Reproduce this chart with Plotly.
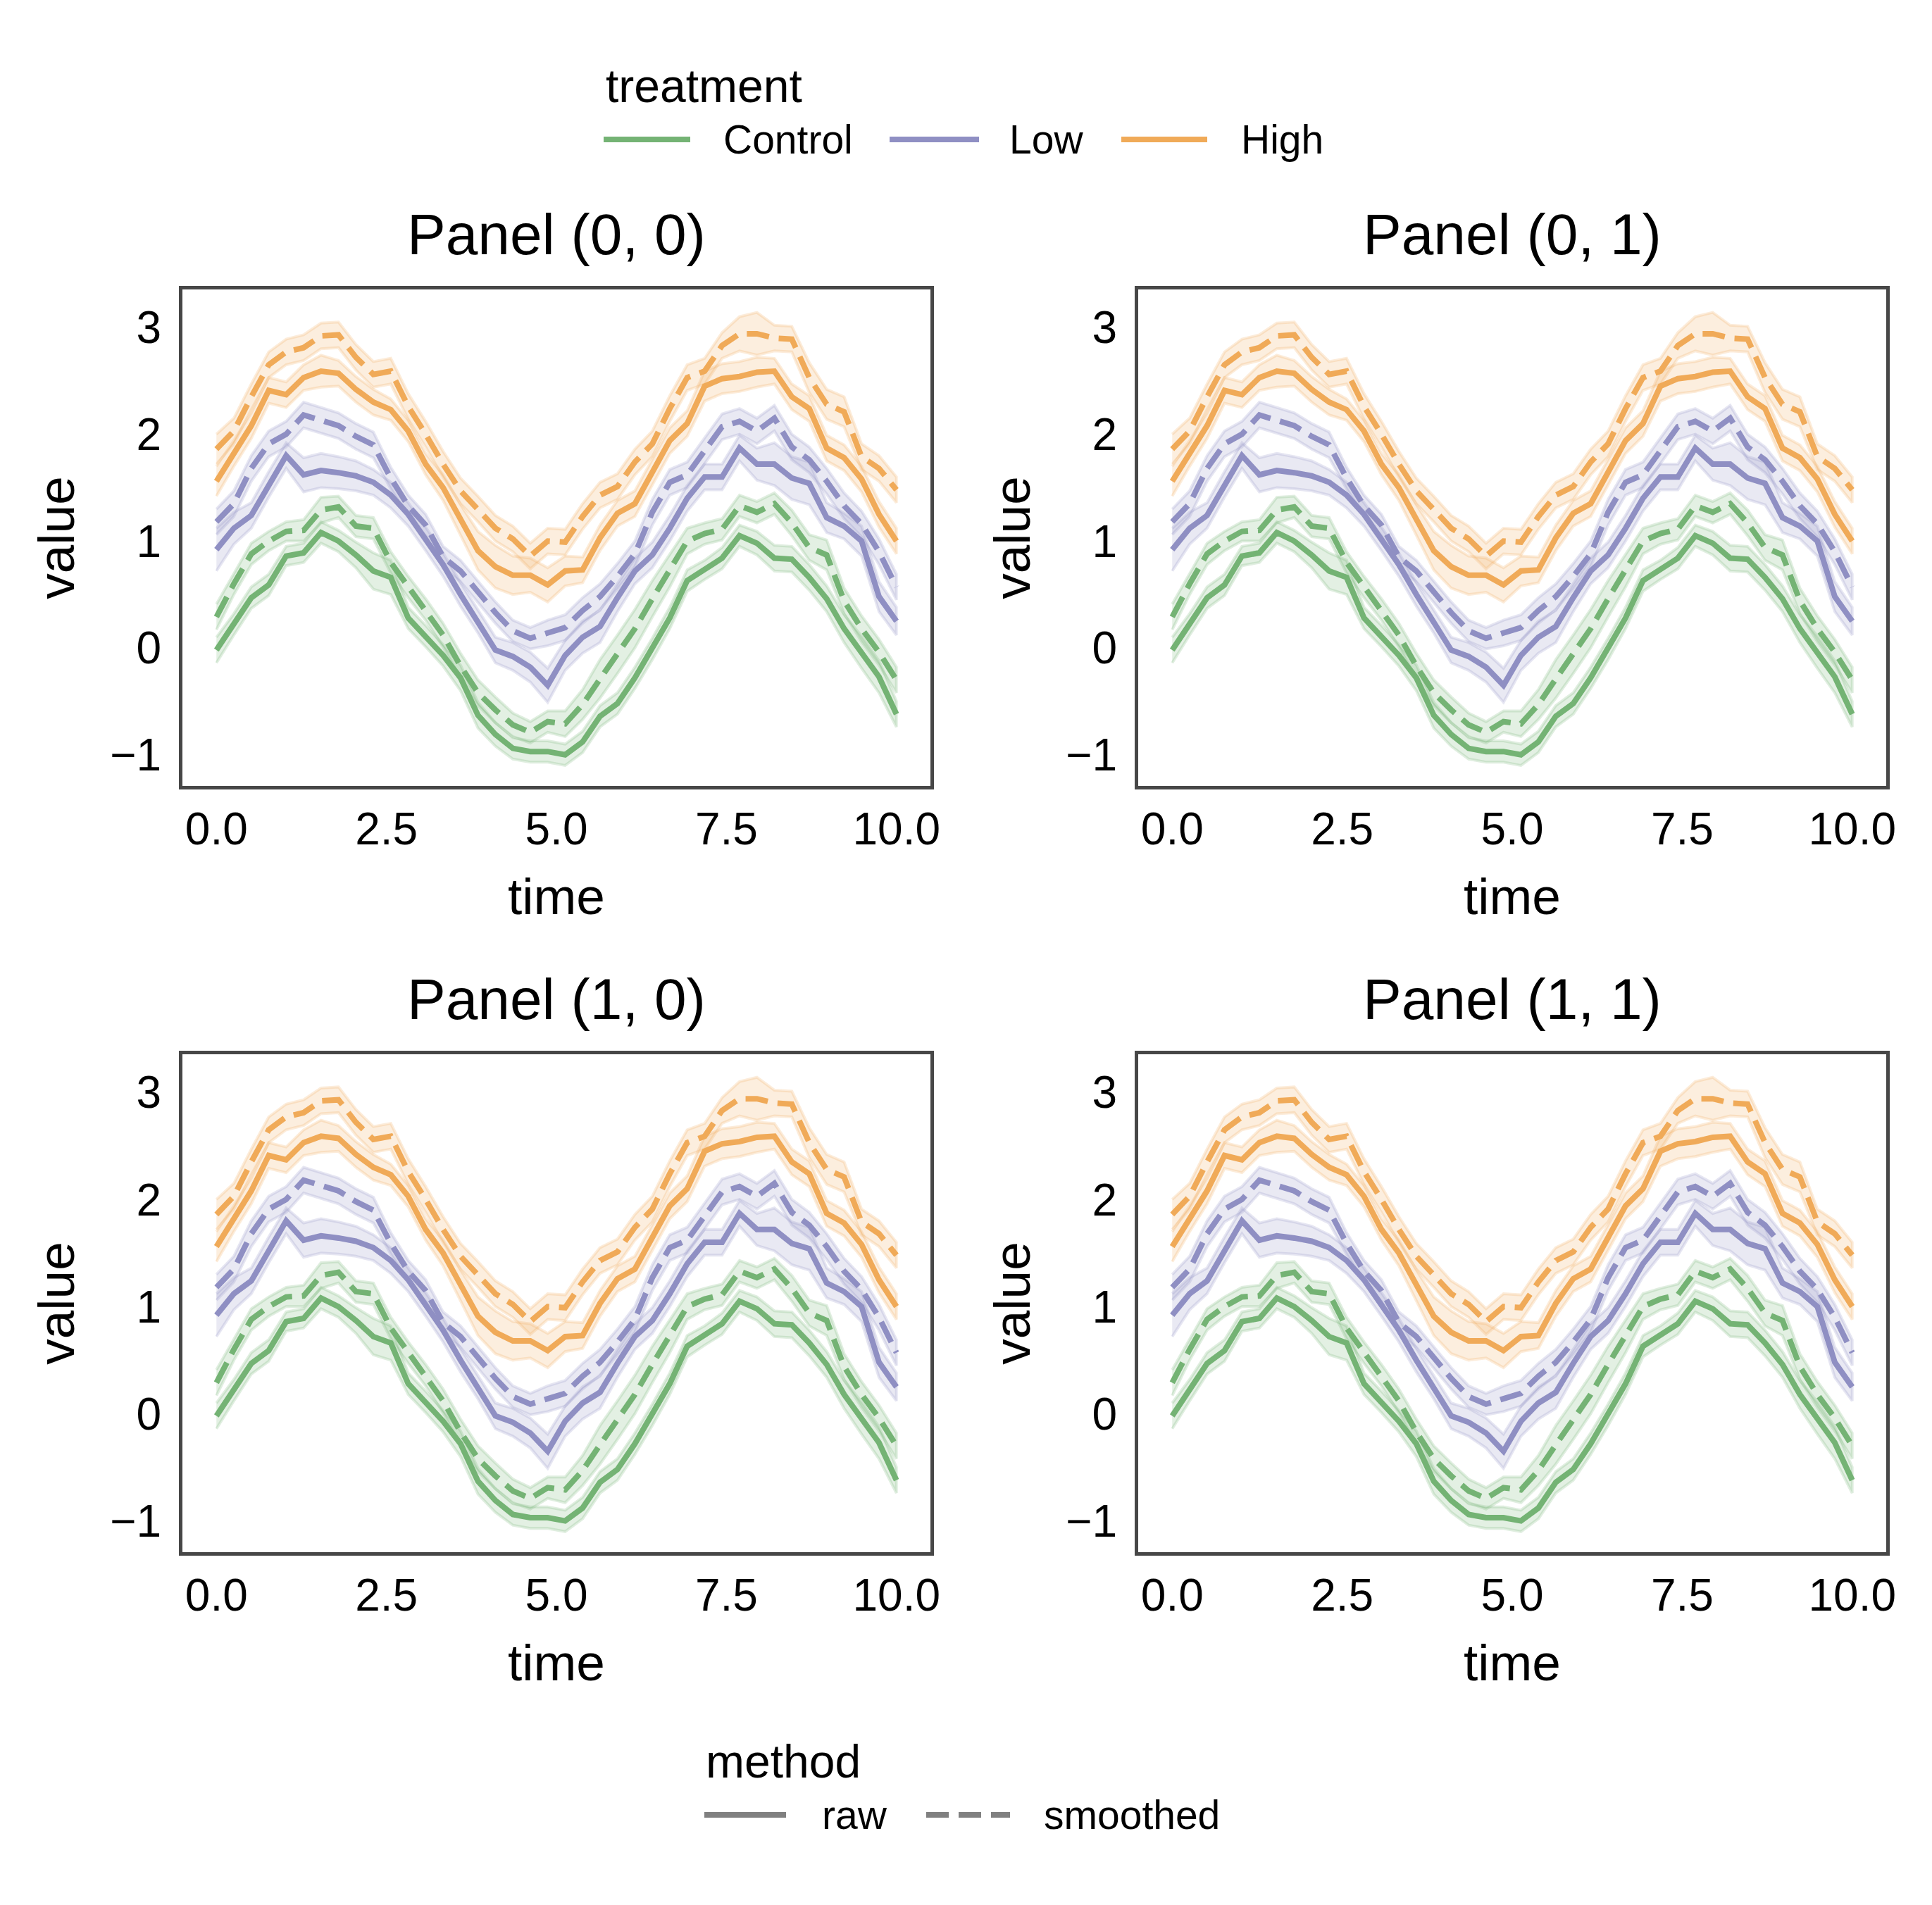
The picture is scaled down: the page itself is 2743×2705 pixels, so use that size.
import numpy as np
import plotly.graph_objects as go

# ---------------- data ----------------
time = np.linspace(0, 10, 40)

control_raw = [-0.02, 0.22, 0.47, 0.59, 0.86, 0.89, 1.08, 1.00, 0.87, 0.72,
               0.66, 0.28, 0.11, -0.07, -0.28, -0.63, -0.81, -0.94, -0.97, -0.97,
               -1.00, -0.88, -0.64, -0.52, -0.28, -0.01, 0.28, 0.63, 0.73, 0.84,
               1.05, 0.98, 0.84, 0.83, 0.66, 0.46, 0.18, -0.04, -0.27, -0.62]
control_smoothed = [0.29, 0.60, 0.88, 1.00, 1.09, 1.10, 1.29, 1.32, 1.14, 1.12,
                    0.80, 0.57, 0.36, 0.12, -0.17, -0.42, -0.58, -0.72, -0.79, -0.69,
                    -0.71, -0.53, -0.29, -0.06, 0.18, 0.46, 0.72, 1.00, 1.07, 1.11,
                    1.33, 1.27, 1.35, 1.17, 0.94, 0.87, 0.44, 0.18, -0.04, -0.30]
low_raw = [0.92, 1.12, 1.24, 1.53, 1.80, 1.62, 1.66, 1.64, 1.61, 1.55,
           1.43, 1.25, 1.02, 0.78, 0.50, 0.25, -0.02, -0.08, -0.18, -0.35,
           -0.07, 0.10, 0.20, 0.47, 0.72, 0.87, 1.12, 1.40, 1.60, 1.60,
           1.87, 1.72, 1.72, 1.59, 1.54, 1.22, 1.14, 1.00, 0.48, 0.25]
low_smoothed = [1.18, 1.35, 1.68, 1.91, 2.00, 2.18, 2.13, 2.08, 1.98, 1.90,
                1.59, 1.33, 1.15, 0.85, 0.72, 0.52, 0.33, 0.16, 0.09, 0.14,
                0.19, 0.35, 0.48, 0.67, 0.88, 1.27, 1.55, 1.62, 1.85, 2.07,
                2.12, 2.03, 2.15, 1.88, 1.76, 1.56, 1.33, 1.16, 0.90, 0.57]
high_raw = [1.56, 1.82, 2.08, 2.41, 2.37, 2.53, 2.59, 2.57, 2.42, 2.30,
            2.23, 2.03, 1.72, 1.50, 1.20, 0.91, 0.76, 0.68, 0.68, 0.59,
            0.72, 0.73, 1.03, 1.26, 1.35, 1.65, 1.94, 2.10, 2.45, 2.52,
            2.54, 2.58, 2.59, 2.35, 2.24, 1.87, 1.78, 1.58, 1.25, 1.00]
high_smoothed = [1.86, 2.03, 2.35, 2.65, 2.77, 2.81, 2.92, 2.93, 2.72, 2.56,
                 2.59, 2.26, 2.00, 1.72, 1.47, 1.30, 1.12, 1.02, 0.86, 1.00,
                 0.99, 1.23, 1.43, 1.51, 1.74, 1.91, 2.24, 2.53, 2.59, 2.83,
                 2.94, 2.94, 2.90, 2.89, 2.53, 2.28, 2.21, 1.79, 1.68, 1.48]

# confidence-band half widths
control_raw_ci = [0.12, 0.10, 0.10, 0.10, 0.09, 0.09, 0.10, 0.10, 0.12, 0.17,
                  0.16, 0.10, 0.10, 0.10, 0.12, 0.12, 0.11, 0.10, 0.10, 0.10,
                  0.10, 0.10, 0.10, 0.10, 0.10, 0.10, 0.10, 0.10, 0.09, 0.10,
                  0.10, 0.11, 0.12, 0.12, 0.12, 0.12, 0.13, 0.15, 0.15, 0.12]
control_smoothed_ci = [0.12, 0.10, 0.10, 0.09, 0.09, 0.10, 0.12, 0.10, 0.10, 0.10,
                       0.10, 0.10, 0.10, 0.11, 0.12, 0.12, 0.12, 0.11, 0.10, 0.10,
                       0.12, 0.14, 0.18, 0.18, 0.18, 0.17, 0.15, 0.12, 0.10, 0.10,
                       0.10, 0.10, 0.10, 0.12, 0.12, 0.14, 0.12, 0.12, 0.12, 0.12]
low_raw_ci = [0.20, 0.15, 0.12, 0.12, 0.12, 0.16, 0.16, 0.15, 0.14, 0.12,
              0.12, 0.11, 0.11, 0.11, 0.11, 0.11, 0.12, 0.13, 0.14, 0.16,
              0.14, 0.15, 0.15, 0.13, 0.12, 0.12, 0.12, 0.12, 0.12, 0.12,
              0.12, 0.15, 0.20, 0.20, 0.20, 0.14, 0.12, 0.14, 0.14, 0.13]
low_smoothed_ci = [0.12, 0.12, 0.12, 0.12, 0.12, 0.12, 0.12, 0.12, 0.12, 0.12,
                   0.10, 0.10, 0.10, 0.10, 0.10, 0.10, 0.10, 0.10, 0.10, 0.12,
                   0.12, 0.12, 0.12, 0.12, 0.12, 0.12, 0.12, 0.12, 0.12, 0.12,
                   0.12, 0.12, 0.12, 0.12, 0.12, 0.12, 0.12, 0.12, 0.12, 0.12]
high_raw_ci = [0.14, 0.12, 0.12, 0.12, 0.12, 0.12, 0.15, 0.12, 0.12, 0.12,
               0.10, 0.10, 0.10, 0.12, 0.14, 0.18, 0.20, 0.18, 0.16, 0.16,
               0.14, 0.12, 0.12, 0.12, 0.12, 0.12, 0.12, 0.12, 0.14, 0.14,
               0.14, 0.14, 0.12, 0.12, 0.12, 0.12, 0.12, 0.12, 0.12, 0.12]
high_smoothed_ci = [0.14, 0.12, 0.12, 0.12, 0.12, 0.12, 0.12, 0.12, 0.12, 0.12,
                    0.12, 0.12, 0.12, 0.12, 0.12, 0.12, 0.12, 0.12, 0.12, 0.12,
                    0.12, 0.12, 0.12, 0.12, 0.12, 0.12, 0.12, 0.12, 0.12, 0.12,
                    0.16, 0.20, 0.12, 0.12, 0.14, 0.14, 0.14, 0.12, 0.12, 0.12]

treatments = ["Control", "Low", "High"]
methods = ["raw", "smoothed"]
panel_titles = ["Panel (0, 0)", "Panel (0, 1)", "Panel (1, 0)", "Panel (1, 1)"]
x_ticks = [0, 2.5, 5, 7.5, 10]
y_ticks = [-1, 0, 1, 2, 3]

series = [
    ("Control", "raw", control_raw, control_raw_ci),
    ("Control", "smoothed", control_smoothed, control_smoothed_ci),
    ("Low", "raw", low_raw, low_raw_ci),
    ("Low", "smoothed", low_smoothed, low_smoothed_ci),
    ("High", "raw", high_raw, high_raw_ci),
    ("High", "smoothed", high_smoothed, high_smoothed_ci),
]

# ---------------- style ----------------
W, H = 2743, 2705
FONT = "Liberation Sans, Arial, Helvetica, sans-serif"
colors = {"Control": (116, 179, 116), "Low": (143, 143, 195), "High": (240, 170, 88)}
DASH = "32px,14px"
LW = 8
FRAME = "#474747"


def rgba(c, a):
    return f"rgba({c[0]},{c[1]},{c[2]},{a})"


# panel boxes in pixels (left, right, top, bottom)
boxes = [(259, 1321, 411, 1116), (1616, 2678, 411, 1116),
         (259, 1321, 1497, 2204), (1616, 2678, 1497, 2204)]

fig = go.Figure()
layout = dict(
    width=W, height=H, margin=dict(l=0, r=0, t=0, b=0),
    paper_bgcolor="white", plot_bgcolor="white", showlegend=False,
    font=dict(family=FONT, color="black"),
)

annotations = []
shapes = []

for p, (l, r, t, b) in enumerate(boxes):
    k = "" if p == 0 else str(p + 1)
    xa, ya = "x" + k, "y" + k
    xdom = [l / W, r / W]
    ydom = [1 - b / H, 1 - t / H]
    layout["xaxis" + k] = dict(
        domain=xdom, anchor=ya, range=[-0.5, 10.5],
        tickmode="array", tickvals=x_ticks, tickformat=".1f",
        ticks="outside", ticklen=1, tickcolor="rgba(0,0,0,0)",
        tickfont=dict(size=64, family=FONT, color="black"),
        showgrid=False, zeroline=False, showline=True, mirror=True,
        linecolor=FRAME, linewidth=5, automargin=False,
        title=dict(text="time", font=dict(size=73, family=FONT, color="black"), standoff=37),
    )
    layout["yaxis" + k] = dict(
        domain=ydom, anchor=xa, range=[-1.292, 3.355],
        tickmode="array", tickvals=y_ticks,
        ticks="outside", ticklen=12, tickcolor="rgba(0,0,0,0)",
        tickfont=dict(size=64, family=FONT, color="black"),
        showgrid=False, zeroline=False, showline=True, mirror=True,
        linecolor=FRAME, linewidth=5, automargin=False,
        title=dict(text="value", font=dict(size=73, family=FONT, color="black"), standoff=28),
    )
    annotations.append(dict(
        text=panel_titles[p], x=(xdom[0] + xdom[1]) / 2, y=ydom[1],
        xref="paper", yref="paper", xanchor="center", yanchor="middle",
        yshift=79, showarrow=False, font=dict(size=82, family=FONT, color="black"),
    ))

    for trt, meth, vals, ci in series:
        c = colors[trt]
        lo = [v - e for v, e in zip(vals, ci)]
        hi = [v + e for v, e in zip(vals, ci)]
        fig.add_trace(go.Scatter(
            x=list(time) + list(time[::-1]), y=hi + lo[::-1],
            xaxis=xa, yaxis=ya, mode="lines", fill="toself",
            fillcolor=rgba(c, 0.2), line=dict(color=rgba(c, 0.22), width=4),
            hoverinfo="skip", showlegend=False,
        ))
    for trt, meth, vals, ci in series:
        c = colors[trt]
        fig.add_trace(go.Scatter(
            x=time, y=vals, xaxis=xa, yaxis=ya, mode="lines",
            name=f"{trt} ({meth})",
            line=dict(color=rgba(c, 1), width=LW, dash="solid" if meth == "raw" else DASH),
            showlegend=False,
        ))

# ---------------- legends (drawn manually) ----------------
def px(x):
    return x / W


def py(y):
    return 1 - y / H


annotations.append(dict(text="treatment", x=px(858), y=py(122), xref="paper", yref="paper",
                        xanchor="left", yanchor="middle", showarrow=False,
                        font=dict(size=66, family=FONT, color="black")))
leg_items = [("Control", 857, 980, 1025), ("Low", 1263, 1390, 1431), ("High", 1592, 1714, 1760)]
for name, x0, x1, xt in leg_items:
    shapes.append(dict(type="line", xref="paper", yref="paper", x0=px(x0), x1=px(x1),
                       y0=py(198), y1=py(198), line=dict(color=rgba(colors[name], 1), width=8)))
    annotations.append(dict(text=name, x=px(xt), y=py(198), xref="paper", yref="paper",
                            xanchor="left", yanchor="middle", showarrow=False,
                            font=dict(size=57, family=FONT, color="black")))

annotations.append(dict(text="method", x=px(1000), y=py(2501), xref="paper", yref="paper",
                        xanchor="left", yanchor="middle", showarrow=False,
                        font=dict(size=66, family=FONT, color="black")))
meth_items = [("raw", 1000, 1116, 1165, "solid"), ("smoothed", 1315, 1434, 1480, DASH)]
for name, x0, x1, xt, dash in meth_items:
    shapes.append(dict(type="line", xref="paper", yref="paper", x0=px(x0), x1=px(x1),
                       y0=py(2577), y1=py(2577), line=dict(color="#808080", width=8, dash=dash)))
    annotations.append(dict(text=name, x=px(xt), y=py(2577), xref="paper", yref="paper",
                            xanchor="left", yanchor="middle", showarrow=False,
                            font=dict(size=57, family=FONT, color="black")))

layout["annotations"] = annotations
layout["shapes"] = shapes
fig.update_layout(**layout)
fig.write_html("out.html")
